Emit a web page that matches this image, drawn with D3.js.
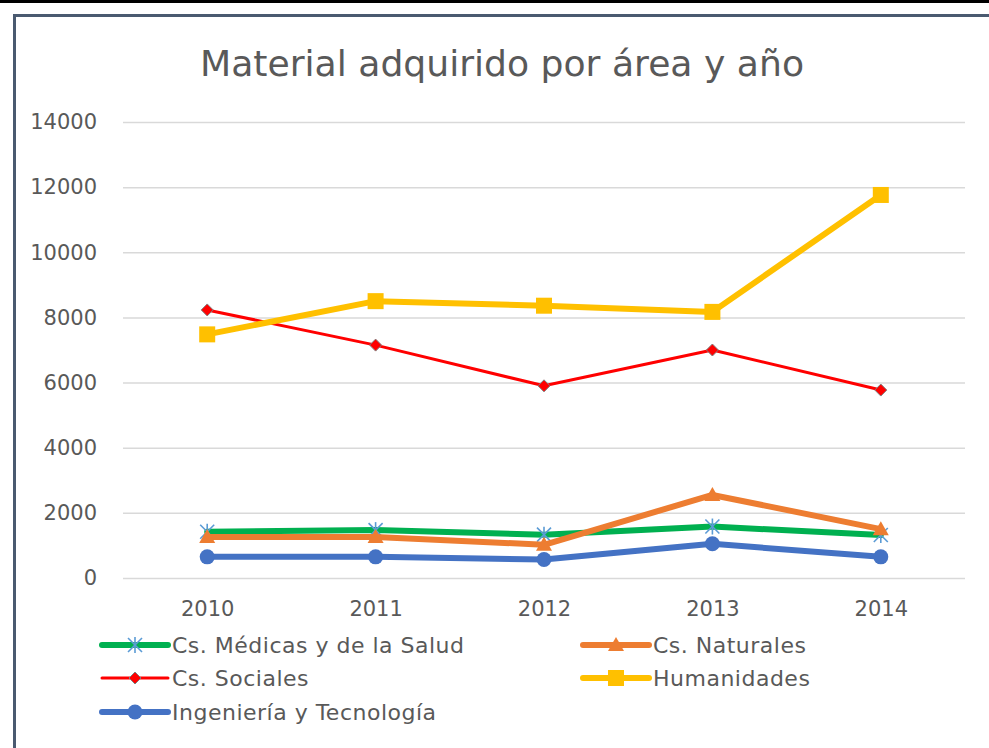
<!DOCTYPE html>
<html>
<head>
<meta charset="utf-8">
<style>
  body { margin: 0; background: #fff; }
  svg { display: block; }
</style>
</head>
<body>
<script src="https://d3js.org/d3.v7.min.js"></script>
<script>
// data
var years = ["2010", "2011", "2012", "2013", "2014"];
var medicas = [1420, 1470, 1330, 1580, 1320];
var naturales = [1260, 1260, 1020, 2550, 1500];
var sociales = [8230, 7150, 5900, 7000, 5770];
var humanidades = [7480, 8500, 8360, 8170, 11760];
var ingenieria = [650, 650, 570, 1050, 650];
var yTicks = [0, 2000, 4000, 6000, 8000, 10000, 12000, 14000];

var series = [
  { name: "Cs. Médicas y de la Salud", values: medicas, color: "#00B050", width: 6, marker: "asterisk" },
  { name: "Cs. Naturales", values: naturales, color: "#ED7D31", width: 6, marker: "triangle" },
  { name: "Cs. Sociales", values: sociales, color: "#FF0000", width: 3, marker: "diamond" },
  { name: "Humanidades", values: humanidades, color: "#FFC000", width: 6, marker: "square" },
  { name: "Ingeniería y Tecnología", values: ingenieria, color: "#4472C4", width: 6, marker: "circle" }
];

var W = 989, H = 748;
var font = "'DejaVu Sans', sans-serif";
var svg = d3.select("body").append("svg").attr("width", W).attr("height", H);

svg.append("rect").attr("width", W).attr("height", H).attr("fill", "#fff");
// top dark band and chart frame
svg.append("rect").attr("x", 0).attr("y", 0).attr("width", W).attr("height", 3).attr("fill", "#000");
svg.append("path").attr("d", "M14.5," + H + "V15.5H" + W)
  .attr("fill", "none").attr("stroke", "#4a5a70").attr("stroke-width", 3);

svg.append("text").attr("x", 502).attr("y", 76).attr("text-anchor", "middle")
  .attr("font-family", font).attr("font-size", 36).attr("fill", "#595959")
  .attr("textLength", 604).attr("lengthAdjust", "spacingAndGlyphs")
  .text("Material adquirido por área y año");

var x = d3.scalePoint().domain(years).range([123, 965]).padding(0.5);
var y = d3.scaleLinear().domain([0, 14000]).range([578, 122]);

var grid = svg.append("g").attr("transform", "translate(123,0)")
  .call(d3.axisLeft(y).tickValues(yTicks).tickSize(-(965 - 123)).tickFormat(""));
grid.select(".domain").remove();
grid.selectAll(".tick line").attr("stroke", "#d9d9d9").attr("stroke-width", 1.5);

var yAxis = svg.append("g").attr("transform", "translate(97,0)")
  .call(d3.axisLeft(y).tickValues(yTicks).tickSize(0).tickPadding(0).tickFormat(d3.format("d")));
yAxis.select(".domain").remove();
yAxis.selectAll("text").attr("font-family", font).attr("font-size", 21).attr("fill", "#595959");

var xAxis = svg.append("g").attr("transform", "translate(0,601)")
  .call(d3.axisBottom(x).tickSize(0).tickPadding(0));
xAxis.select(".domain").remove();
xAxis.selectAll("text").attr("font-family", font).attr("font-size", 21).attr("fill", "#595959");

var line = d3.line().x(function(d, i) { return x(years[i]); }).y(function(d) { return y(d); });

function drawMarker(g, type, cx, cy, color) {
  if (type === "asterisk") {
    var a = g.append("g").attr("transform", "translate(" + cx + "," + cy + ")")
      .attr("stroke", "#5B9BD5").attr("stroke-width", 1.6);
    a.append("line").attr("x1", -7).attr("y1", -7).attr("x2", 7).attr("y2", 7);
    a.append("line").attr("x1", -7).attr("y1", 7).attr("x2", 7).attr("y2", -7);
    a.append("line").attr("x1", 0).attr("y1", -8).attr("x2", 0).attr("y2", 8);
  } else if (type === "triangle") {
    g.append("path").attr("transform", "translate(" + cx + "," + cy + ")")
      .attr("d", "M0,-8L8,6L-8,6Z").attr("fill", color);
  } else if (type === "diamond") {
    g.append("path").attr("transform", "translate(" + cx + "," + cy + ")")
      .attr("d", "M0,-6L6,0L0,6L-6,0Z").attr("fill", color).attr("stroke", "#7f7f7f").attr("stroke-width", 1);
  } else if (type === "square") {
    g.append("rect").attr("x", cx - 8).attr("y", cy - 8).attr("width", 16).attr("height", 16).attr("fill", color);
  } else if (type === "circle") {
    g.append("circle").attr("cx", cx).attr("cy", cy).attr("r", 7.5).attr("fill", color);
  }
}

series.forEach(function(s) {
  var g = svg.append("g");
  g.append("path").datum(s.values).attr("d", line)
    .attr("fill", "none").attr("stroke", s.color).attr("stroke-width", s.width)
    .attr("stroke-linejoin", "round").attr("stroke-linecap", "round");
  s.values.forEach(function(v, i) { drawMarker(g, s.marker, x(years[i]), y(v), s.color); });
});

// legend
var legPos = [[102, 645], [583, 645], [102, 678], [583, 678], [102, 712]];
series.forEach(function(s, i) {
  var lx = legPos[i][0], ly = legPos[i][1];
  var g = svg.append("g");
  g.append("line").attr("x1", lx).attr("y1", ly).attr("x2", lx + 66).attr("y2", ly)
    .attr("stroke", s.color).attr("stroke-width", s.width).attr("stroke-linecap", "round");
  drawMarker(g, s.marker, lx + 33, ly, s.color);
  g.append("text").attr("x", lx + 70).attr("y", ly).attr("dy", "0.35em")
    .attr("font-family", font).attr("font-size", 22).attr("letter-spacing", 0.5)
    .attr("fill", "#595959").text(s.name);
});
</script>
</body>
</html>
